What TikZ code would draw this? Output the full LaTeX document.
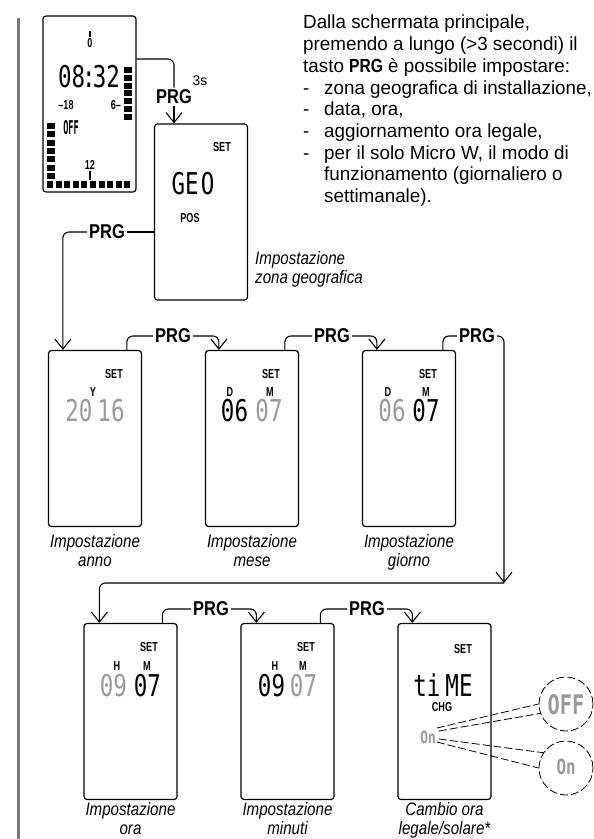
\documentclass[tikz,border=0pt]{standalone}
\usepackage{fontspec}
\setmainfont{Liberation Sans}
\newfontfamily\hdr[FakeStretch=0.99]{Liberation Sans}
\newfontfamily\cond[FakeStretch=0.84]{Liberation Sans}
\newfontfamily\bcond[FakeStretch=0.82]{Liberation Sans}
\newfontfamily\tcond[FakeStretch=0.7]{Liberation Sans}
\newfontfamily\lcd[FakeStretch=0.75]{DejaVu Sans Mono}
\newfontfamily\lcdn[FakeStretch=0.45]{DejaVu Sans Mono}
\usetikzlibrary{arrows.meta}
\definecolor{lcdgray}{HTML}{9A9A9A}
\definecolor{barg}{HTML}{7A7A7A}
\tikzset{
 screen/.style={draw, line width=1.2pt, rounded corners=3pt, minimum width=93pt, minimum height=176pt, inner sep=0pt},
 prg/.style={font=\bcond\bfseries\fontsize{20}{20}\selectfont, inner sep=2pt},
 tag/.style={font=\tcond\bfseries\fontsize{13}{13}\selectfont, inner sep=0pt},
 lcdbig/.style={font=\lcd\fontsize{30}{30}\selectfont, inner sep=0pt},
 capt/.style={font=\cond\itshape\fontsize{18}{19}\selectfont, align=center, anchor=north, inner sep=0pt},
 link/.style={line width=1.1pt, rounded corners=6pt},
 arr/.style={-{Straight Barb[length=10pt,width=16pt]}},
 callout/.style={dash pattern=on 8pt off 3pt, line width=0.8pt},
}
\begin{document}
\begin{tikzpicture}[x=1pt,y=-1pt]
\fill[white] (0,0) rectangle (594,839);
\useasboundingbox (0,0) rectangle (594,839);
% left margin bar
\draw[barg, line width=3.5pt] (18.5,18) -- (18.5,839);
% header text
\node[anchor=north west, inner sep=0pt, align=left, font=\hdr\fontsize{19}{21.7}\selectfont] (intro) at (303,15) {%
Dalla schermata principale,\\
premendo a lungo (>3 secondi) il\\
tasto {\bcond\bfseries PRG} è possibile impostare:\\
\makebox[21pt][l]{-}zona geografica di installazione,\\
\makebox[21pt][l]{-}data, ora,\\
\makebox[21pt][l]{-}aggiornamento ora legale,\\
\makebox[21pt][l]{-}per il solo Micro W, il modo di\\
\hspace*{21pt}funzionamento (giornaliero o\\
\hspace*{21pt}settimanale).};
% main display
\node[screen] (main) at (89.5,104) {};
\draw[line width=1.2pt] (90,31) -- (90,37);
\node[tag] (zero) at (90,43) {0};
\node[lcdbig] (clock) at (89,77) {08\kern-3pt:\kern-3pt32};
\foreach \i in {0,...,6} \fill (124,67+\i*7.8) rectangle ++(8,6);
\foreach \i in {0,...,6} \fill (47,123+\i*8.3) rectangle ++(8,6);
\foreach \i in {0,...,9} \fill (47+\i*8.6,181) rectangle ++(6,6.5);
\node[tag] (m18) at (66,105) {–18};
\node[tag] (six) at (116,105) {6–};
\node[font=\lcdn\bfseries\fontsize{19}{19}\selectfont, inner sep=0pt] (off0) at (71,128) {OFF};
\node[tag] (twelve) at (90,165) {12};
\draw[line width=1.2pt] (90,171) -- (90,180);
% GEO
\node[screen] (geo) at (201,212) {};
\node[tag] (setg) at (222,147) {SET};
\node[lcdbig] (geot) at (193,184) {GE\hspace{2pt}O};
\node[tag] (pos) at (190,218) {POS};
\node[capt, anchor=north west, align=left] (capg) at (255,251) {Impostazione\\zona geografica};
% row 2
\node[screen] (b1) at (95,438.5) {};
\node[screen] (b2) at (252,438.5) {};
\node[screen] (b3) at (409,438.5) {};
\node[tag] (s1) at (114,374) {SET};
\node[tag] (y1) at (93,392) {Y};
\node[lcdbig, text=lcdgray] (yr) at (95,411) {20\hspace{5pt}16};
\node[tag] (s2) at (271,374) {SET};
\node[tag] (d2) at (230,392) {D};
\node[tag] (mo2) at (270,392) {M};
\node[lcdbig] (dd2) at (234.5,411) {06};
\node[lcdbig, text=lcdgray] (mm2) at (269,411) {07};
\node[tag] (s3) at (428,374) {SET};
\node[tag] (d3) at (388,392) {D};
\node[tag] (mo3) at (426,392) {M};
\node[lcdbig, text=lcdgray] (dd3) at (392,411) {06};
\node[lcdbig] (mm3) at (426,411) {07};
\node[capt] (c1) at (95,534) {Impostazione\\anno};
\node[capt] (c2) at (252,534) {Impostazione\\mese};
\node[capt] (c3) at (409,534) {Impostazione\\giorno};
% row 3
\node[screen] (b4) at (130.5,711.5) {};
\node[screen] (b5) at (287.5,711.5) {};
\node[screen] (b6) at (444.5,711.5) {};
\node[tag] (s4) at (149,647) {SET};
\node[tag] (h4) at (117,666) {H};
\node[tag] (mi4) at (147,666) {M};
\node[lcdbig, text=lcdgray] (hh4) at (113.5,686) {09};
\node[lcdbig] (mn4) at (147.5,686) {07};
\node[tag] (s5) at (306,647) {SET};
\node[tag] (h5) at (275,666) {H};
\node[tag] (mi5) at (303,666) {M};
\node[lcdbig] (hh5) at (271.5,686) {09};
\node[lcdbig, text=lcdgray] (mn5) at (303.5,686) {07};
\node[tag] (s6) at (463,649) {SET};
\node[lcdbig] (time) at (443,685) {ti\hspace{5pt}ME};
\node[tag] (chg) at (442,707) {CHG};
\node[font=\lcd\bfseries\fontsize{17}{17}\selectfont, text=lcdgray, inner sep=0pt] (on6) at (428,737) {On};
\node[capt] (c4) at (130.5,802) {Impostazione\\ora};
\node[capt] (c5) at (287.5,802) {Impostazione\\minuti};
\node[capt] (c6) at (444.5,802) {Cambio ora\\legale/solare*};
% callouts
\node[draw, circle, callout, minimum size=54pt, inner sep=0pt] (z1) at (566,704) {};
\node[draw, circle, callout, minimum size=54pt, inner sep=0pt] (z2) at (566,768) {};
\node[font=\lcd\bfseries\fontsize{27}{27}\selectfont, text=lcdgray, inner sep=0pt] (offz) at (566,705) {OFF};
\node[font=\lcd\bfseries\fontsize{21}{21}\selectfont, text=lcdgray, inner sep=0pt] (onz) at (566,767) {On};
\draw[callout] ([xshift=1pt,yshift=9pt]on6.east) -- (z1.west);
\draw[callout] ([xshift=3pt,yshift=6pt]on6.east) -- (z1.200);
\draw[callout] ([xshift=3pt,yshift=-2pt]on6.east) -- (z2.146);
\draw[callout] ([xshift=1pt,yshift=-5pt]on6.east) -- (z2.west);
% PRG labels
\node[prg] (p0) at (174,97) {PRG};
\node[font=\hdr\fontsize{14}{14}\selectfont, inner sep=0pt] (t3s) at (200,81) {3s};
\node[prg] (p1) at (107,232) {PRG};
\node[prg] (p2) at (173,336) {PRG};
\node[prg] (p3) at (332,336) {PRG};
\node[prg] (p4) at (477,336) {PRG};
\node[prg] (p5) at (211,609) {PRG};
\node[prg] (p6) at (367,609) {PRG};
\coordinate (turn) at (504,583);
% connectors
\draw[link] ([yshift=45pt]main.east) -| (p0.north);
\draw[link, arr] (p0.south) -- (p0.south |- geo.north);
\draw[link] ([yshift=-20pt]geo.west) -- (p1.east);
\draw[link, arr] (p1.west) -| ([xshift=15pt]b1.north west);
\draw[link] ([xshift=79pt]b1.north west) |- (p2.west);
\draw[link, arr] (p2.east) -| ([xshift=14pt]b2.north west);
\draw[link] ([xshift=80pt]b2.north west) |- (p3.west);
\draw[link, arr] (p3.east) -| ([xshift=15pt]b3.north west);
\draw[link] ([xshift=81pt]b3.north west) |- (p4.west);
\draw[link, arr] (p4.east) -| (turn);
\draw[link, arr] (turn) -| ([xshift=16pt]b4.north west);
\draw[link] ([xshift=79pt]b4.north west) |- (p5.west);
\draw[link, arr] (p5.east) -| ([xshift=16pt]b5.north west);
\draw[link] ([xshift=80pt]b5.north west) |- (p6.west);
\draw[link, arr] (p6.east) -| ([xshift=15pt]b6.north west);
\end{tikzpicture}
\end{document}
